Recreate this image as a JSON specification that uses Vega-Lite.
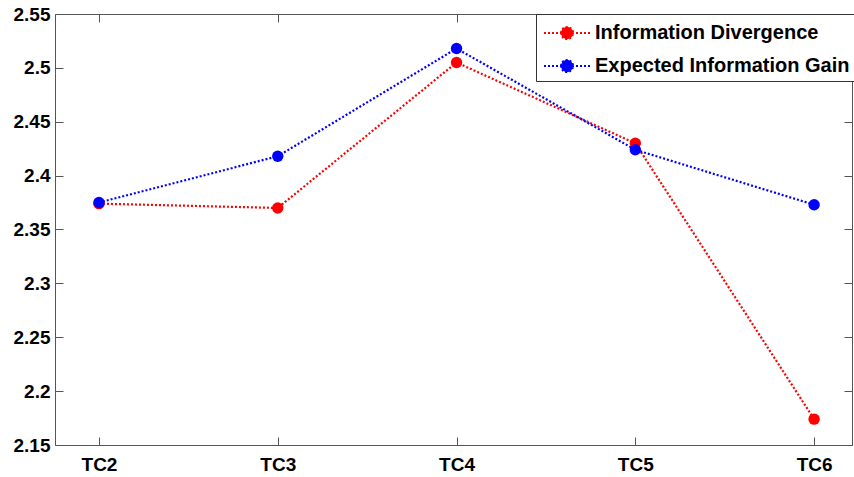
{
  "$schema": "https://vega.github.io/schema/vega-lite/v6.json",
  "width": 797,
  "height": 431,
  "autosize": {"type": "none"},
  "padding": {"left": 55, "top": 14, "right": 2, "bottom": 32},
  "background": "white",
  "config": {
    "view": {"stroke": "#555555", "strokeWidth": 1},
    "font": "Liberation Sans",
    "axis": {
      "domain": false,
      "grid": false,
      "tickColor": "#555555",
      "tickSize": -8,
      "tickWidth": 1,
      "labelFont": "Liberation Sans",
      "labelFontSize": 19,
      "labelFontWeight": "bold",
      "labelColor": "black",
      "title": null
    }
  },
  "data": {
    "values": [
      {"case": "TC2", "idx": 2, "series": "Information Divergence", "value": 2.374},
      {"case": "TC3", "idx": 3, "series": "Information Divergence", "value": 2.370},
      {"case": "TC4", "idx": 4, "series": "Information Divergence", "value": 2.505},
      {"case": "TC5", "idx": 5, "series": "Information Divergence", "value": 2.430},
      {"case": "TC6", "idx": 6, "series": "Information Divergence", "value": 2.174},
      {"case": "TC2", "idx": 2, "series": "Expected Information Gain", "value": 2.375},
      {"case": "TC3", "idx": 3, "series": "Expected Information Gain", "value": 2.418},
      {"case": "TC4", "idx": 4, "series": "Expected Information Gain", "value": 2.518},
      {"case": "TC5", "idx": 5, "series": "Expected Information Gain", "value": 2.424},
      {"case": "TC6", "idx": 6, "series": "Expected Information Gain", "value": 2.373}
    ]
  },
  "encoding": {
    "color": {
      "field": "series",
      "type": "nominal",
      "scale": {"domain": ["Information Divergence", "Expected Information Gain"], "range": ["#ff0000", "#0000ff"]},
      "legend": {
        "title": null,
        "orient": "none",
        "legendX": 481,
        "legendY": 0,
        "direction": "vertical",
        "fillColor": "white",
        "strokeColor": "#333333",
        "padding": 4,
        "symbolType": "M-0.786,0L2.5,0M0.43,0A0.43,0.43,0,1,1,1.29,0A0.43,0.43,0,1,1,0.43,0Z",
        "symbolSize": 784,
        "symbolStrokeWidth": 2,
        "symbolDash": [2, 2],
        "rowPadding": 7,
        "labelOffset": 25,
        "labelFont": "Liberation Sans",
        "labelFontSize": 20,
        "labelFontWeight": "bold",
        "labelColor": "black",
        "labelLimit": 400
      }
    }
  },
  "layer": [
    {
      "mark": {"type": "line", "strokeDash": [2, 2], "strokeWidth": 2.2},
      "encoding": {
        "x": {
          "field": "idx", "type": "quantitative",
          "scale": {"domain": [1.754, 6.212], "nice": false, "zero": false},
          "axis": {"orient": "bottom", "values": [2, 3, 4, 5, 6], "labelExpr": "'TC' + datum.value", "labelPadding": 18}
        },
        "y": {
          "field": "value", "type": "quantitative",
          "scale": {"domain": [2.15, 2.55], "nice": false, "zero": false},
          "axis": {"orient": "left", "values": [2.15, 2.2, 2.25, 2.3, 2.35, 2.4, 2.45, 2.5, 2.55], "format": "~g", "labelPadding": 13}
        }
      }
    },
    {
      "mark": {"type": "point", "filled": true, "size": 130, "opacity": 1},
      "encoding": {
        "x": {
          "field": "idx", "type": "quantitative",
          "scale": {"domain": [1.754, 6.212], "nice": false, "zero": false},
          "axis": {"orient": "top", "values": [2, 3, 4, 5, 6], "labels": false}
        },
        "y": {
          "field": "value", "type": "quantitative",
          "scale": {"domain": [2.15, 2.55], "nice": false, "zero": false},
          "axis": {"orient": "right", "values": [2.15, 2.2, 2.25, 2.3, 2.35, 2.4, 2.45, 2.5, 2.55], "labels": false}
        }
      }
    }
  ],
  "resolve": {"axis": {"x": "independent", "y": "independent"}}
}
